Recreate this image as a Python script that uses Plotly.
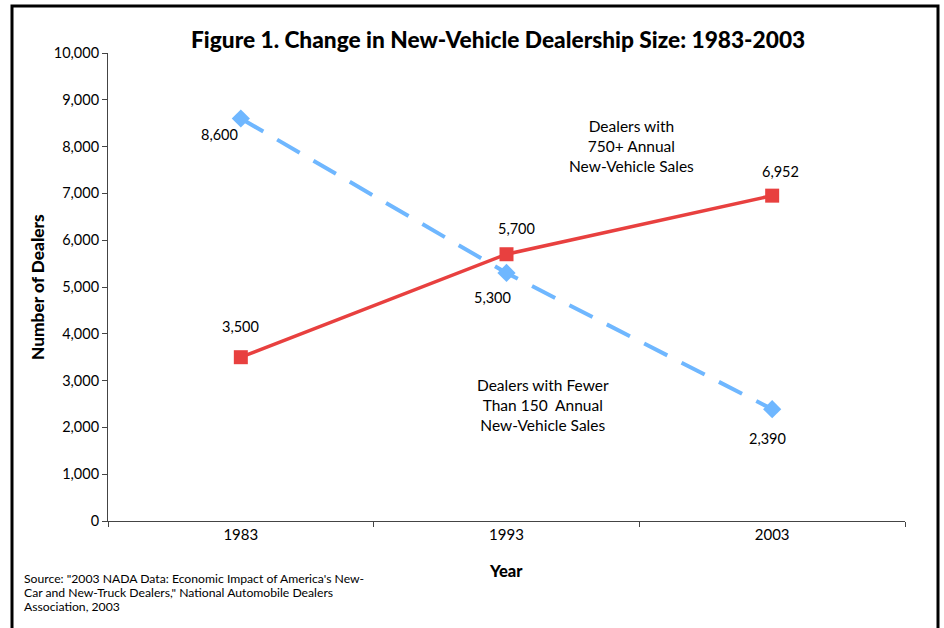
import plotly.graph_objects as go

years = ["1983", "1993", "2003"]
large_dealers = [3500, 5700, 6952]   # 750+ annual sales
small_dealers = [8600, 5300, 2390]   # fewer than 150 annual sales
y_ticks = [0, 1000, 2000, 3000, 4000, 5000, 6000, 7000, 8000, 9000, 10000]
source_lines = [
    "Source: \"2003 NADA Data: Economic Impact of America's New-",
    "Car and New-Truck Dealers,\" National Automobile Dealers",
    "Association, 2003",
]

FONT = "Lato"
L, R, T, B = 108, 39, 53, 107
W, H = 944, 628
pw, ph = W - L - R, H - T - B

fig = go.Figure()
fig.add_trace(go.Scatter(
    x=years, y=small_dealers, mode="lines+markers",
    line=dict(color="#6FB7FF", width=4, dash="26px,16px"),
    marker=dict(symbol="diamond", size=14, color="#6FB7FF"),
    showlegend=False, hoverinfo="skip"))
fig.add_trace(go.Scatter(
    x=years, y=large_dealers, mode="lines+markers",
    line=dict(color="#E8403F", width=3.5),
    marker=dict(symbol="square", size=14, color="#E8403F"),
    showlegend=False, hoverinfo="skip"))

annotations = []
small_shifts = [(-21, -16), (-14, -25), (-5, -29)]
large_shifts = [(0, 31), (10, 26), (8, 24)]
for i, (v, (dx, dy)) in enumerate(zip(small_dealers, small_shifts)):
    annotations.append(dict(x=i, y=v, xref="x", yref="y", text=f"{v:,}",
                            showarrow=False, xshift=dx, yshift=dy,
                            xanchor="center", yanchor="middle",
                            font=dict(family=FONT, size=14.5, color="black")))
for i, (v, (dx, dy)) in enumerate(zip(large_dealers, large_shifts)):
    annotations.append(dict(x=i, y=v, xref="x", yref="y", text=f"{v:,}",
                            showarrow=False, xshift=dx, yshift=dy,
                            xanchor="center", yanchor="middle",
                            font=dict(family=FONT, size=14.5, color="black")))

def px_x(x):
    return (x - L) / pw

def px_y(y):
    return 1 - (y - T) / ph

annotations += [
    dict(x=px_x(631), y=px_y(146), xref="paper", yref="paper",
         xanchor="center", yanchor="middle",
         text="Dealers with<br>750+ Annual<br>New-Vehicle Sales", showarrow=False,
         align="center", font=dict(family=FONT, size=15.5, color="black")),
    dict(x=px_x(543), y=px_y(405), xref="paper", yref="paper",
         xanchor="center", yanchor="middle",
         text="Dealers with Fewer<br>Than 150  Annual<br>New-Vehicle Sales", showarrow=False,
         align="center", font=dict(family=FONT, size=15.5, color="black")),
    dict(x=px_x(498), y=px_y(39), xref="paper", yref="paper",
         xanchor="center", yanchor="middle",
         text="Figure 1. Change in New-Vehicle Dealership Size: 1983-2003",
         showarrow=False, font=dict(family=FONT, size=22.7, color="black", weight=900)),
    dict(x=px_x(37), y=px_y(287), xref="paper", yref="paper",
         xanchor="center", yanchor="middle",
         text="Number of Dealers", textangle=-90, showarrow=False,
         font=dict(family=FONT, size=17.3, color="black", weight=900)),
    dict(x=px_x(506), y=px_y(571), xref="paper", yref="paper",
         xanchor="center", yanchor="middle",
         text="Year", showarrow=False,
         font=dict(family=FONT, size=16.5, color="black", weight=900)),
]
for k, line in enumerate(source_lines):
    annotations.append(dict(x=px_x(23), y=px_y(578 + 14 * k), xref="paper", yref="paper",
                            xanchor="left", yanchor="middle", text=line,
                            showarrow=False, align="left", borderpad=0,
                            font=dict(family=FONT, size=12.2, color="black")))

fig.update_layout(
    width=W, height=H,
    margin=dict(l=L, r=R, t=T, b=B),
    paper_bgcolor="white", plot_bgcolor="white",
    annotations=annotations,
    shapes=[dict(type="rect", xref="paper", yref="paper",
                 x0=px_x(12), x1=px_x(938), y0=px_y(640), y1=px_y(6),
                 line=dict(color="black", width=3), fillcolor="rgba(0,0,0,0)")],
    xaxis=dict(type="category", range=[-0.5, 2.5], tickson="boundaries",
               ticks="outside", ticklen=5, tickcolor="#444", showline=True,
               linecolor="#444", linewidth=1, showgrid=False, zeroline=False,
               tickfont=dict(family=FONT, size=15, color="black")),
    yaxis=dict(range=[0, 10000], tickvals=y_ticks,
               ticktext=[f"{v:,}" for v in y_ticks],
               ticks="outside", ticklen=5, tickcolor="#444", showline=True,
               linecolor="#444", linewidth=1, showgrid=False, zeroline=False,
               tickfont=dict(family=FONT, size=14.5, color="black")),
)

fig.write_html("out.html")
